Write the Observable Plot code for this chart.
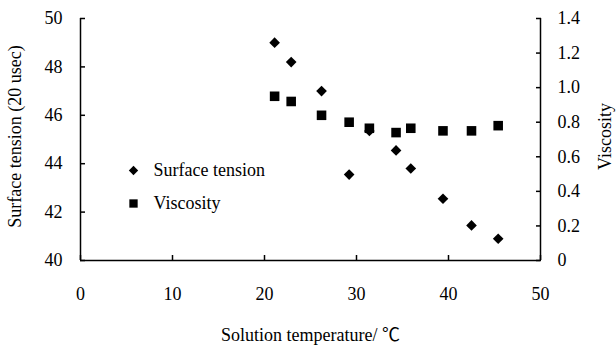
<!DOCTYPE html>
<html>
<head>
<meta charset="utf-8">
<script src="https://cdn.jsdelivr.net/npm/d3@7"></script>
<script src="https://cdn.jsdelivr.net/npm/@observablehq/plot@0.6"></script>
<style>
  html, body { margin: 0; padding: 0; background: #fff; color: #000; }
  #chart svg { display: block; }
</style>
</head>
<body>
<div id="chart"></div>
<script>
// Data
const temperature    = [21.1, 22.9, 26.2, 29.2, 31.4, 34.3, 35.9, 39.4, 42.5, 45.4];
const surfaceTension = [49.0, 48.2, 47.0, 43.55, 45.35, 44.55, 43.8, 42.55, 41.45, 40.9];
const viscosity      = [0.95, 0.92, 0.84, 0.80, 0.765, 0.74, 0.765, 0.75, 0.75, 0.78];

const xTicks = [0, 10, 20, 30, 40, 50];
const leftTicks = [40, 42, 44, 46, 48, 50];
const rightTicks = [0, 0.2, 0.4, 0.6, 0.8, 1.0, 1.2, 1.4];
const rightLabels = ["0", "0.2", "0.4", "0.6", "0.8", "1.0", "1.2", "1.4"];

const seriesNames = ["Surface tension", "Viscosity"];
const xTitle = "Solution temperature/ \u2103";
const yTitle = "Surface tension (20 usec)";
const y2Title = "Viscosity";

const yDomain = [40, 50];
const vDomain = [0, 1.4];
// map viscosity onto the left y scale
const toY = v => yDomain[0] + (v - vDomain[0]) / (vDomain[1] - vDomain[0]) * (yDomain[1] - yDomain[0]);

const stRows = temperature.map((t, i) => ({t, v: surfaceTension[i]}));
const viRows = temperature.map((t, i) => ({t, v: toY(viscosity[i])}));

const font = "Liberation Serif, Times New Roman, serif";
const fs = 18;

const chart = Plot.plot({
  width: 616,
  height: 345,
  marginLeft: 80,
  marginRight: 76,
  marginTop: 18,
  marginBottom: 85,
  style: {fontFamily: font, fontSize: fs + "px", color: "#000", background: "#fff"},
  x: {domain: [0, 50]},
  y: {domain: yDomain},
  marks: [
    Plot.ruleX([0], {stroke: "#000", strokeWidth: 1.5}),
    Plot.ruleX([50], {stroke: "#000", strokeWidth: 1.5}),
    Plot.ruleY([40], {stroke: "#000", strokeWidth: 1.5}),
    Plot.axisX({ticks: xTicks, tickSize: -5, tickPadding: 32, strokeWidth: 1.5, label: null, fontSize: fs}),
    Plot.axisY({anchor: "left", ticks: leftTicks, tickSize: -5, tickPadding: 23, strokeWidth: 1.5, label: null, fontSize: fs}),
    Plot.axisY({anchor: "right", ticks: rightTicks.map(toY), tickFormat: (d, i) => rightLabels[i], tickSize: -5, tickPadding: 22, strokeWidth: 1.5, label: null, fontSize: fs}),
    Plot.dot(stRows, {x: "t", y: "v", symbol: "diamond2", r: 4.8, fill: "#000", stroke: "none"}),
    Plot.dot(viRows, {x: "t", y: "v", symbol: "square", r: 5.4, fill: "#000", stroke: "none"}),
    // legend
    Plot.dot([seriesNames[0]], {frameAnchor: "top-left", dx: 53, dy: 152, symbol: "diamond2", r: 4.2, fill: "#000", stroke: "none"}),
    Plot.dot([seriesNames[1]], {frameAnchor: "top-left", dx: 53, dy: 185, symbol: "square", r: 4.7, fill: "#000", stroke: "none"}),
    Plot.text([seriesNames[0]], {frameAnchor: "top-left", dx: 73, dy: 152, text: d => d, textAnchor: "start", lineAnchor: "middle", fontSize: fs}),
    Plot.text([seriesNames[1]], {frameAnchor: "top-left", dx: 73, dy: 185, text: d => d, textAnchor: "start", lineAnchor: "middle", fontSize: fs}),
    // axis titles
    Plot.text([yTitle], {frameAnchor: "left", dx: -65, dy: -3, rotate: -90, text: d => d, textAnchor: "middle", lineAnchor: "middle", fontSize: fs}),
    Plot.text([y2Title], {frameAnchor: "right", dx: 65, dy: -3, rotate: -90, text: d => d, textAnchor: "middle", lineAnchor: "middle", fontSize: fs}),
    Plot.text([xTitle], {frameAnchor: "bottom", dy: 75, text: d => d, textAnchor: "middle", lineAnchor: "middle", fontSize: fs, fontFamily: "Liberation Serif, Noto Sans CJK SC, serif"})
  ]
});
document.getElementById("chart").appendChild(chart);
</script>
</body>
</html>
